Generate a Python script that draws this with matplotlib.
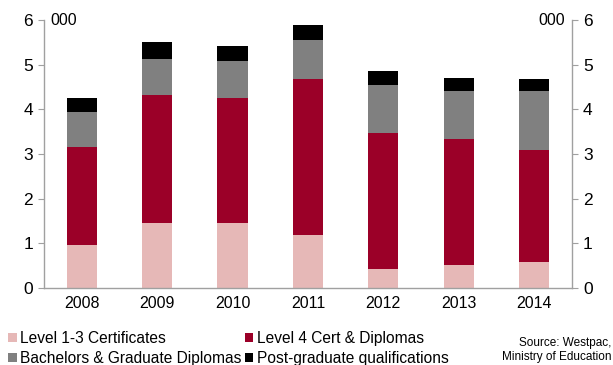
import matplotlib
matplotlib.use("Agg")
import matplotlib.pyplot as plt
import numpy as np

plt.rcParams['font.family'] = ['Liberation Sans', 'DejaVu Sans']

years = ["2008", "2009", "2010", "2011", "2012", "2013", "2014"]
level_1_3 = [0.97, 1.45, 1.45, 1.19, 0.43, 0.51, 0.59]
level_4 = [2.18, 2.87, 2.81, 3.49, 3.05, 2.82, 2.51]
bachelors = [0.79, 0.81, 0.82, 0.87, 1.07, 1.09, 1.31]
postgrad = [0.31, 0.37, 0.33, 0.35, 0.32, 0.29, 0.26]

series = [
    ("Level 1-3 Certificates", level_1_3, "#E6B8B7"),
    ("Level 4 Cert & Diplomas", level_4, "#9B0028"),
    ("Bachelors & Graduate Diplomas", bachelors, "#808080"),
    ("Post-graduate qualifications", postgrad, "#000000"),
]

fig = plt.figure(figsize=(6.13, 3.65), dpi=100)
ax = fig.add_axes([0.0718, 0.211, 0.861, 0.734])

x = np.arange(len(years))
bottom = np.zeros(len(years))
handles = []
for name, vals, col in series:
    h = ax.bar(x, vals, width=0.4, bottom=bottom, color=col, label=name,
               edgecolor='none')
    handles.append(h)
    bottom += np.array(vals)

ax.set_xlim(-0.5, len(years) - 0.5)
ax.set_ylim(0, 6)
ax.set_xticks(x)
ax.set_xticklabels(years, fontsize=11.5)
ax.tick_params(axis='x', length=0, pad=6)
ax.set_yticks(range(7))
ax.tick_params(axis='y', which='both', direction='out', length=4, color='#A0A0A0',
               labelsize=12.5, left=True, right=True, labelleft=True,
               labelright=True, pad=4)

ax.spines['top'].set_visible(False)
for s in ['left', 'right', 'bottom']:
    ax.spines[s].set_color('#A0A0A0')
    ax.spines[s].set_linewidth(1.0)

ax.text(0.012, 1.0, "000", transform=ax.transAxes, fontsize=11.5, ha='left', va='center')
ax.text(0.988, 1.0, "000", transform=ax.transAxes, fontsize=11.5, ha='right', va='center')

# legend filled row by row: two entries per row
order = [handles[0], handles[2], handles[1], handles[3]]
labels = [series[0][0], series[2][0], series[1][0], series[3][0]]
leg = fig.legend(order, labels, loc='upper left',
                 bbox_to_anchor=(0.013, 0.094), ncol=2, frameon=False,
                 fontsize=11.2, handlelength=0.55, handleheight=0.55,
                 handletextpad=0.2, columnspacing=0.25, labelspacing=0.35,
                 borderaxespad=0, borderpad=0)

fig.text(0.997, 0.042, "Source: Westpac,\nMinistry of Education", ha='right',
         va='center', fontsize=8.5, linespacing=1.2)

fig.savefig("out.png", dpi=100)
